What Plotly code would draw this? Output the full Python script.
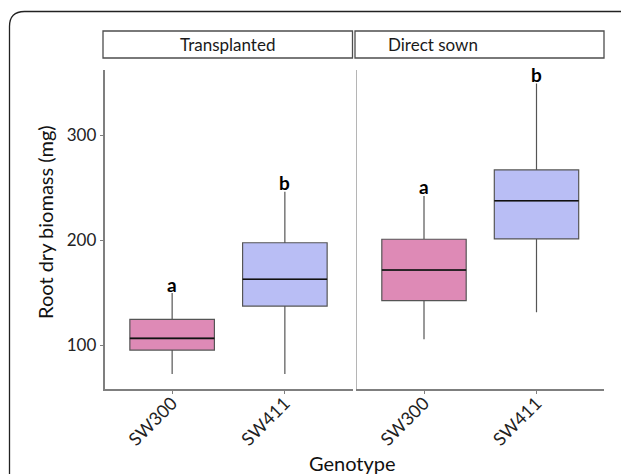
import plotly.graph_objects as go

# ---- data ----
panels = ["Transplanted", "Direct sown"]
genotypes = ["SW300", "SW411"]
# per panel, per genotype
lower = [[72.4, 72.4], [105.4, 131.1]]
q1 = [[95.2, 137.1], [142.2, 201.0]]
median = [[106.3, 162.6], [171.4, 237.4]]
q3 = [[124.5, 197.4], [200.7, 266.7]]
upper = [[149.5, 246.0], [242.0, 349.0]]
letters = [["a", "b"], ["a", "b"]]

colors = {"SW300": "#DE8AB6", "SW411": "#B9BEF5"}
W, H = 621, 474
FONT = "Lato"


def px(x):
    return x / W


def py(y):
    return 1 - y / H


fig = go.Figure()

for p in range(2):
    xa = "x" if p == 0 else "x2"
    ya = "y" if p == 0 else "y2"
    for g, gen in enumerate(genotypes):
        fig.add_trace(go.Box(
            x=[gen], q1=[q1[p][g]], median=[median[p][g]], q3=[q3[p][g]],
            lowerfence=[lower[p][g]], upperfence=[upper[p][g]],
            fillcolor=colors[gen], line=dict(color="#555555", width=1.2),
            whiskerwidth=0, width=0.75, boxpoints=False, showlegend=False,
            hoverinfo="skip", xaxis=xa, yaxis=ya))
        # black median line
        fig.add_trace(go.Box(
            x=[gen], q1=[median[p][g]], median=[median[p][g]], q3=[median[p][g]],
            lowerfence=[median[p][g]], upperfence=[median[p][g]],
            fillcolor="rgba(0,0,0,0)", line=dict(color="#111111", width=1.6),
            whiskerwidth=0, width=0.75, boxpoints=False, showlegend=False,
            hoverinfo="skip", xaxis=xa, yaxis=ya))
        fig.add_annotation(
            x=gen, y=upper[p][g] + 8.5, xref=xa, yref=ya, text="<b>%s</b>" % letters[p][g],
            showarrow=False, yanchor="middle",
            font=dict(family=FONT, size=19, color="#000000"))

ydom = [py(389), py(70)]
yrange = [58.1, 361.9]
tickfont = dict(family=FONT, size=18, color="#222222")
ytickfont = dict(family=FONT, size=17, color="#222222")

xcommon = dict(type="category", categoryorder="array", categoryarray=genotypes,
               range=[-0.6, 1.6], showline=True, linecolor="#7f7f7f", linewidth=1.5,
               ticks="outside", ticklen=3, tickcolor="#7f7f7f", ticklabelstandoff=-8,
               tickangle=-45, tickfont=tickfont, showgrid=False, zeroline=False)

fig.update_layout(
    width=W, height=H, margin=dict(l=0, r=0, t=0, b=0),
    paper_bgcolor="white", plot_bgcolor="white",
    boxmode="overlay",
    xaxis=dict(domain=[px(104.5), px(352.5)], **xcommon),
    xaxis2=dict(domain=[px(356.5), px(604)], anchor="y2", **xcommon),
    yaxis=dict(domain=ydom, range=yrange, tickvals=[100, 200, 300],
               showline=True, linecolor="#7f7f7f", linewidth=1.5,
               ticks="outside", ticklen=3, tickcolor="#7f7f7f",
               tickfont=ytickfont, showgrid=False, zeroline=False),
    yaxis2=dict(domain=ydom, range=yrange, anchor="x2", matches="y",
                showline=True, linecolor="#b5b5b5", linewidth=1,
                showticklabels=False, ticks="", showgrid=False, zeroline=False),
)

# facet strips
strips = [(103, 352.5), (355, 604)]
for (x0, x1), name in zip(strips, panels):
    fig.add_shape(type="rect", xref="paper", yref="paper",
                  x0=px(x0), x1=px(x1), y0=py(58), y1=py(31),
                  line=dict(color="#4d4d4d", width=1.3), fillcolor="white")
    fig.add_annotation(xref="paper", yref="paper", x=px((x0 + x1) / 2), y=py(44.5),
                       text=name, showarrow=False, yanchor="middle",
                       font=dict(family=FONT, size=17, color="#1a1a1a"))

# axis titles
fig.add_annotation(xref="paper", yref="paper", x=px(45), y=py(222), text="Root dry biomass (mg)",
                   textangle=-90, showarrow=False, xanchor="center", yanchor="middle",
                   font=dict(family=FONT, size=20, color="#111111"))
fig.add_annotation(xref="paper", yref="paper", x=px(352), y=py(463), text="Genotype",
                   showarrow=False, xanchor="center", yanchor="middle",
                   font=dict(family=FONT, size=20, color="#111111"))

# rounded outer frame (open to the right and bottom)
x0, yt, r = 9.5, 11.5, 15
path = "M %f,%f L %f,%f Q %f,%f %f,%f L %f,%f" % (
    px(x0), py(H + 20), px(x0), py(yt + r), px(x0), py(yt), px(x0 + r), py(yt), px(W + 20), py(yt))
fig.add_shape(type="path", xref="paper", yref="paper", path=path,
              line=dict(color="#222222", width=1.3), layer="above")

fig.write_html("out.html")
